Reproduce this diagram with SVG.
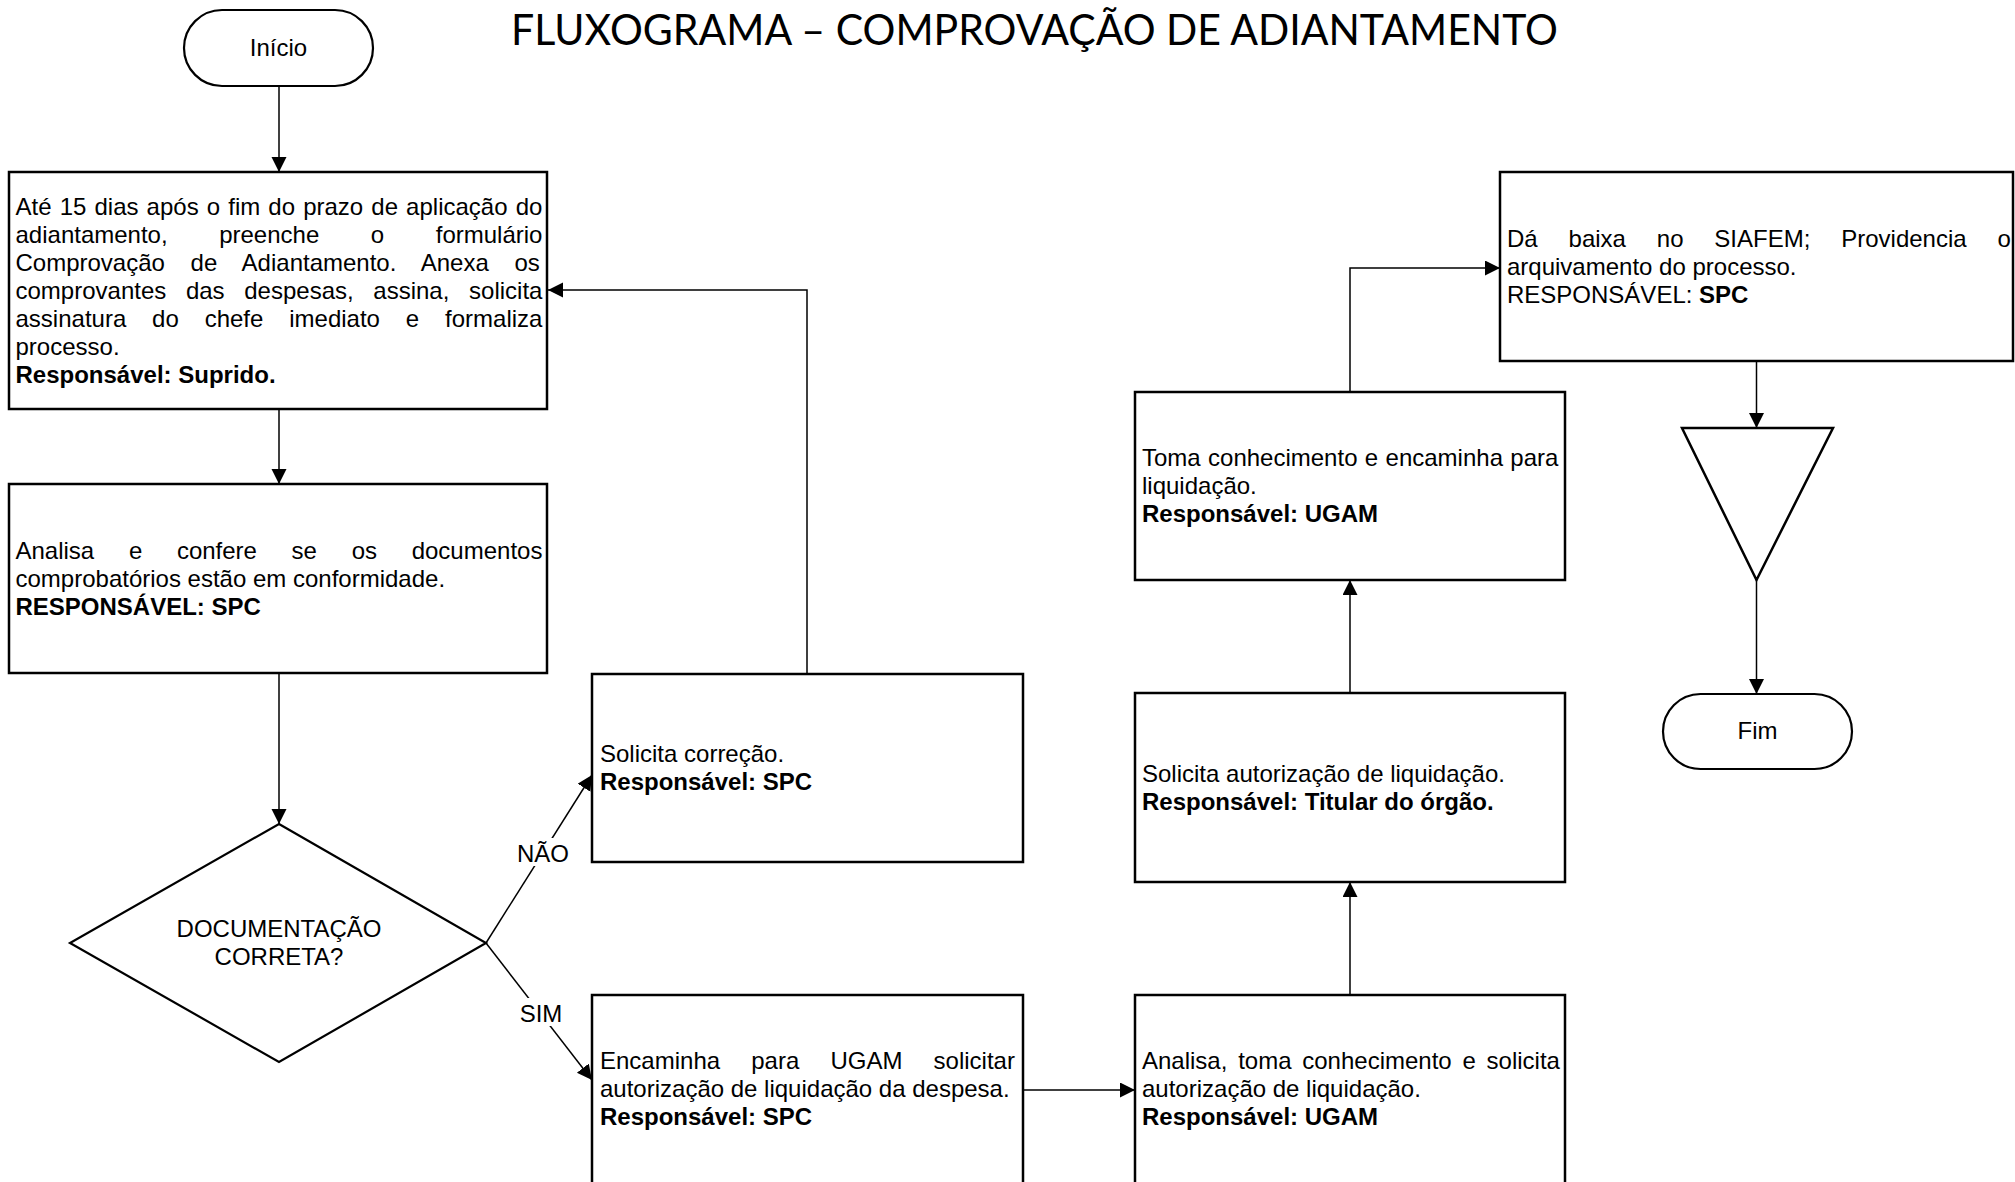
<svg xmlns="http://www.w3.org/2000/svg" width="2015" height="1182" viewBox="0 0 2015 1182">
<defs>
<marker id="arr" markerUnits="userSpaceOnUse" markerWidth="16" markerHeight="16" refX="15" refY="7.5" orient="auto">
<path d="M0,0 L15,7.5 L0,15 z" fill="#000"/>
</marker>
<style>
.box{fill:#fff;stroke:#000;stroke-width:2.5}
.term{fill:#fff;stroke:#000;stroke-width:2.2}
.ln{fill:none;stroke:#000;stroke-width:1.5}
.t{font-family:"Liberation Sans",Arial,sans-serif;font-size:24px;fill:#000}
.b{font-weight:bold}
.c{text-anchor:middle}
.title{font-family:Lato,"Open Sans",sans-serif;font-size:42px;fill:#000}
</style>
</defs>
<rect width="2015" height="1182" fill="#fff"/>
<text class="title" x="511" y="45" textLength="1047" lengthAdjust="spacingAndGlyphs">FLUXOGRAMA – COMPROVAÇÃO DE ADIANTAMENTO</text>

<g id="connectors">
<line class="ln" x1="279" y1="86" x2="279" y2="172" marker-end="url(#arr)"/>
<line class="ln" x1="279" y1="409" x2="279" y2="484" marker-end="url(#arr)"/>
<line class="ln" x1="279" y1="673" x2="279" y2="824" marker-end="url(#arr)"/>
<line class="ln" x1="486" y1="943" x2="592" y2="775" marker-end="url(#arr)"/>
<line class="ln" x1="486" y1="943" x2="592" y2="1080" marker-end="url(#arr)"/>
<polyline class="ln" points="807,674 807,290 548,290" marker-end="url(#arr)"/>
<line class="ln" x1="1023" y1="1090" x2="1135" y2="1090" marker-end="url(#arr)"/>
<line class="ln" x1="1350" y1="995" x2="1350" y2="882" marker-end="url(#arr)"/>
<line class="ln" x1="1350" y1="693" x2="1350" y2="580" marker-end="url(#arr)"/>
<polyline class="ln" points="1350,392 1350,268 1500,268" marker-end="url(#arr)"/>
<line class="ln" x1="1756.5" y1="361" x2="1756.5" y2="428" marker-end="url(#arr)"/>
<line class="ln" x1="1756.5" y1="580" x2="1756.5" y2="694" marker-end="url(#arr)"/>
<rect x="518" y="838" width="50" height="28" fill="#fff"/>
<text class="t c" x="543" y="862">NÃO</text>
<rect x="518" y="998" width="46" height="28" fill="#fff"/>
<text class="t c" x="541" y="1022">SIM</text>
</g>

<g id="inicio">
<rect class="term" x="184" y="10" width="189" height="76" rx="38" ry="38"/>
<text class="t c" x="278.5" y="56">Início</text>
</g>

<g id="preenche">
<rect class="box" x="9" y="172" width="538" height="237"/>
<text class="t" x="15.5" y="214.5" style="word-spacing:1.45px">Até 15 dias após o fim do prazo de aplicação do</text>
<text class="t" x="15.5" y="242.5" style="word-spacing:44.9px">adiantamento, preenche o formulário</text>
<text class="t" x="15.5" y="270.5" style="word-spacing:19px">Comprovação de Adiantamento. Anexa os</text>
<text class="t" x="15.5" y="298.5" style="word-spacing:13px">comprovantes das despesas, assina, solicita</text>
<text class="t" x="15.5" y="326.5" style="word-spacing:19.2px">assinatura do chefe imediato e formaliza</text>
<text class="t" x="15.5" y="354.5">processo.</text>
<text class="t b" x="15.5" y="382.5">Responsável: Suprido.</text>
</g>

<g id="analisa">
<rect class="box" x="9" y="484" width="538" height="189"/>
<text class="t" x="15.5" y="558.5" style="word-spacing:28px">Analisa e confere se os documentos</text>
<text class="t" x="15.5" y="586.5">comprobatórios estão em conformidade.</text>
<text class="t b" x="15.5" y="614.5">RESPONSÁVEL: SPC</text>
</g>

<g id="decisao">
<polygon points="279,824 486,943 279,1062 70,943" fill="#fff" stroke="#000" stroke-width="2.2"/>
<text class="t c" x="279" y="937">DOCUMENTAÇÃO</text>
<text class="t c" x="279" y="965">CORRETA?</text>
</g>

<g id="correcao">
<rect class="box" x="592" y="674" width="431" height="188"/>
<text class="t" x="600" y="762">Solicita correção.</text>
<text class="t b" x="600" y="790">Responsável: SPC</text>
</g>

<g id="encaminha">
<rect class="box" x="592" y="995" width="431" height="195"/>
<text class="t" x="600" y="1069" style="word-spacing:24.5px">Encaminha para UGAM solicitar</text>
<text class="t" x="600" y="1097">autorização de liquidação da despesa.</text>
<text class="t b" x="600" y="1125">Responsável: SPC</text>
</g>

<g id="ugam-analisa">
<rect class="box" x="1135" y="995" width="430" height="195"/>
<text class="t" x="1142" y="1069" style="word-spacing:4.1px">Analisa, toma conhecimento e solicita</text>
<text class="t" x="1142" y="1097">autorização de liquidação.</text>
<text class="t b" x="1142" y="1125">Responsável: UGAM</text>
</g>

<g id="titular">
<rect class="box" x="1135" y="693" width="430" height="189"/>
<text class="t" x="1142" y="781.5">Solicita autorização de liquidação.</text>
<text class="t b" x="1142" y="809.5">Responsável: Titular do órgão.</text>
</g>

<g id="ugam-toma">
<rect class="box" x="1135" y="392" width="430" height="188"/>
<text class="t" x="1142" y="466" style="word-spacing:0.7px">Toma conhecimento e encaminha para</text>
<text class="t" x="1142" y="494">liquidação.</text>
<text class="t b" x="1142" y="522">Responsável: UGAM</text>
</g>

<g id="baixa">
<rect class="box" x="1500" y="172" width="513" height="189"/>
<text class="t" x="1507" y="246.5" style="word-spacing:24.2px">Dá baixa no SIAFEM; Providencia o</text>
<text class="t" x="1507" y="274.5">arquivamento do processo.</text>
<text class="t" x="1507" y="302.5">RESPONSÁVEL: <tspan class="b">SPC</tspan></text>
</g>

<g id="arquivo">
<polygon points="1682,428 1833,428 1756.5,580" fill="#fff" stroke="#000" stroke-width="2.5"/>
</g>

<g id="fim">
<rect class="term" x="1663" y="694" width="189" height="75" rx="37.5" ry="37.5"/>
<text class="t c" x="1757.5" y="739">Fim</text>
</g>
</svg>
